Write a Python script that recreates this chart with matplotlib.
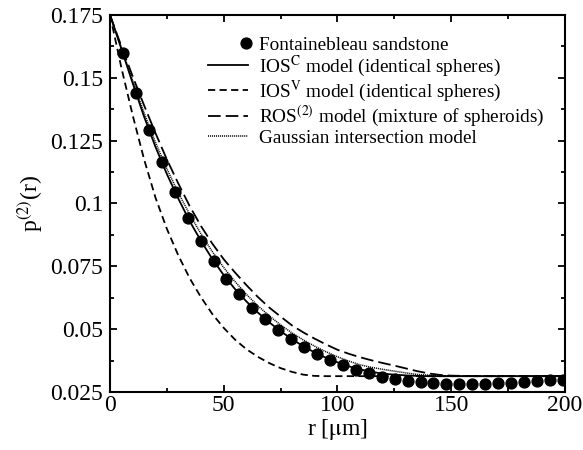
import matplotlib.pyplot as plt
from matplotlib.legend_handler import HandlerLine2D
from matplotlib.ticker import MultipleLocator, FormatStrFormatter

plt.rcParams['font.family'] = ['Liberation Serif', 'DejaVu Serif']
plt.rcParams['mathtext.fontset'] = 'stix'

# measured two-point probability, Fontainebleau sandstone
r_data = [5.7, 11.4, 17.1, 22.8, 28.4, 34.1, 39.8, 45.5, 51.2, 56.9,
          62.6, 68.3, 74.0, 79.7, 85.3, 91.0, 96.7, 102.4, 108.1, 113.8,
          119.5, 125.2, 130.9, 136.6, 142.2, 147.9, 153.6, 159.3, 165.0, 170.7,
          176.4, 182.1, 187.8, 193.5, 199.2]
p_data = [0.1598, 0.1438, 0.1292, 0.1164, 0.1047, 0.0943, 0.0852, 0.0771, 0.0699, 0.0639,
          0.0585, 0.0539, 0.0497, 0.0459, 0.0428, 0.0400, 0.0376, 0.0357, 0.0339, 0.0324,
          0.0311, 0.0302, 0.0294, 0.0288, 0.0284, 0.0282, 0.0280, 0.0280, 0.0282, 0.0284,
          0.0287, 0.0291, 0.0295, 0.0296, 0.0299]

# model curves on a 5 um grid
r_model = [0, 5, 10, 15, 20, 25, 30, 35, 40, 45,
           50, 55, 60, 65, 70, 75, 80, 85, 90, 95,
           100, 105, 110, 115, 120, 125, 130, 135, 140, 145,
           150, 155, 160, 165, 170, 175, 180, 185, 190, 195, 200]
p_ios_c = [0.175, 0.1615, 0.1478, 0.1345, 0.1225, 0.1117, 0.1020, 0.0930, 0.0851, 0.0779,
           0.0715, 0.0659, 0.0610, 0.0566, 0.0527, 0.0492, 0.0460, 0.0432, 0.0407, 0.0386,
           0.0368, 0.0352, 0.0340, 0.0330, 0.0323, 0.0319, 0.0316, 0.0314, 0.0313, 0.0313,
           0.0313, 0.0313, 0.0313, 0.0313, 0.0313, 0.0313, 0.0313, 0.0313, 0.0313, 0.0313, 0.0313]
p_ios_v = [0.175, 0.1540, 0.1350, 0.1175, 0.1023, 0.0899, 0.0794, 0.0703, 0.0627, 0.0560,
           0.0505, 0.0458, 0.0420, 0.0390, 0.0365, 0.0345, 0.0330, 0.0319, 0.0314, 0.0313,
           0.0313, 0.0313, 0.0313, 0.0313, 0.0313, 0.0313, 0.0313, 0.0313, 0.0313, 0.0313,
           0.0313, 0.0313, 0.0313, 0.0313, 0.0313, 0.0313, 0.0313, 0.0313, 0.0313, 0.0313, 0.0313]
p_ros = [0.175, 0.1625, 0.1505, 0.1390, 0.1280, 0.1175, 0.1080, 0.0990, 0.0910, 0.0840,
         0.0778, 0.0725, 0.0675, 0.0628, 0.0586, 0.0550, 0.0515, 0.0487, 0.0462, 0.0439,
         0.0418, 0.0402, 0.0388, 0.0376, 0.0365, 0.0355, 0.0344, 0.0333, 0.0324, 0.0318,
         0.0315, 0.0314, 0.0313, 0.0313, 0.0313, 0.0313, 0.0313, 0.0313, 0.0313, 0.0313, 0.0313]
p_gauss = [0.175, 0.1620, 0.1488, 0.1360, 0.1243, 0.1138, 0.1043, 0.0957, 0.0879, 0.0808,
           0.0745, 0.0689, 0.0638, 0.0593, 0.0553, 0.0517, 0.0485, 0.0457, 0.0432, 0.0410,
           0.0390, 0.0373, 0.0358, 0.0348, 0.0340, 0.0333, 0.0326, 0.0320, 0.0317, 0.0315,
           0.0314, 0.0313, 0.0313, 0.0313, 0.0313, 0.0313, 0.0313, 0.0313, 0.0313, 0.0313, 0.0313]


class HandlerMarkerRight(HandlerLine2D):
    # a single marker is drawn at the middle of xdata, so centre xdata near the right end
    def get_xdata(self, legend, xdescent, ydescent, width, height, fontsize):
        m = -xdescent + width - 0.1 * fontsize
        return [m - 1, m + 1], [m]


fig = plt.figure(figsize=(5.83, 4.5), dpi=100)
ax = fig.add_axes([0.1887, 0.1289, 0.7803, 0.8378])

lw = 1.3
pts, = ax.plot(r_data, p_data, 'o', color='black', ms=7.8, zorder=5,
               label='Fontainebleau sandstone')
ax.plot(r_model, p_ios_c, '-', color='black', lw=lw,
        label=r'IOS$^{\mathrm{C}}$ model (identical spheres)')
ax.plot(r_model, p_ios_v, color='black', lw=lw, dashes=(4, 2.4),
        label=r'IOS$^{\mathrm{V}}$ model (identical spheres)')
ax.plot(r_model, p_ros, color='black', lw=lw, dashes=(7, 2.8),
        label=r'ROS$^{(2)}$ model (mixture of spheroids)')
ax.plot(r_model, p_gauss, color='black', lw=1.1, dashes=(0.7, 0.6),
        label='Gaussian intersection model')

ax.set_xlim(0, 200)
ax.set_ylim(0.025, 0.175)
ax.xaxis.set_major_locator(MultipleLocator(50))
ax.xaxis.set_minor_locator(MultipleLocator(25))
ax.yaxis.set_major_locator(MultipleLocator(0.025))
ax.yaxis.set_minor_locator(MultipleLocator(0.0125))
ax.yaxis.set_major_formatter(FormatStrFormatter('%g'))
ax.tick_params(which='both', direction='in', top=True, right=True, labelsize=17, width=1.3)
ax.tick_params(which='major', length=5)
ax.tick_params(which='minor', length=3)
ax.tick_params(axis='x', pad=2)
ax.tick_params(axis='y', pad=5)
for s in ax.spines.values():
    s.set_linewidth(1.5)

ax.set_xlabel(r'r [$\mathrm{\mu}$m]', fontsize=17, labelpad=1)
ax.set_ylabel(r'p$^{(2)}$(r)', fontsize=17, labelpad=4)

ax.legend(loc='upper right', bbox_to_anchor=(0.99, 0.985), frameon=False, fontsize=13.9,
          handlelength=2.05, handletextpad=0.6, labelspacing=0.0, borderpad=0.3,
          handler_map={pts: HandlerMarkerRight(numpoints=1)})

fig.savefig('out.png', dpi=100)
